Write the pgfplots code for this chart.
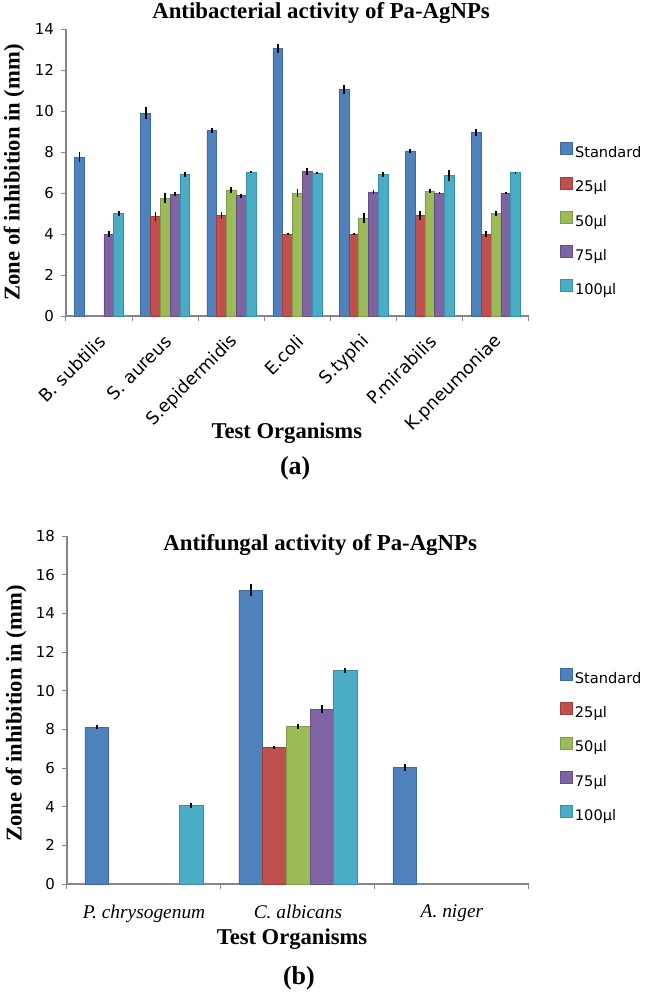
\documentclass[border=0pt]{standalone}
\usepackage{fontspec}
\setmainfont{Liberation Serif}
\newfontfamily\dejavu{DejaVu Sans}
\usepackage{pgfplots}
\pgfplotsset{compat=1.18}

\definecolor{cStd}{HTML}{4F81BD}
\definecolor{cStdD}{HTML}{3C6BA5}
\definecolor{c25}{HTML}{C0504D}
\definecolor{c25D}{HTML}{A13E3B}
\definecolor{c50}{HTML}{9BBB59}
\definecolor{c50D}{HTML}{7E9C44}
\definecolor{c75}{HTML}{8064A2}
\definecolor{c75D}{HTML}{664E86}
\definecolor{c100}{HTML}{4BACC6}
\definecolor{c100D}{HTML}{3591AA}
\definecolor{axgray}{HTML}{868686}

\pgfplotsset{
  zoneaxis/.style={
    scale only axis, clip=false,
    axis lines=left, axis line style={-, draw=axgray, line width=0.6pt},
    ybar=0pt,
    ymin=0,
    tick align=outside,
    major tick length=2.5pt, minor tick length=2.5pt,
    major x tick style={draw=none},
    minor x tick style={draw=axgray, line width=0.5pt},
    ytick style={draw=axgray, line width=0.5pt},
    /pgf/number format/assume math mode=true,
    yticklabel style={font=\dejavu\fontsize{7.5}{8}\selectfont},
    every axis y label/.style={rotate=90, anchor=center,
      font=\bfseries\fontsize{11.3}{12}\selectfont},
    every axis x label/.style={anchor=center,
      font=\bfseries\fontsize{11.3}{12}\selectfont},
    legend image code/.code={\draw[##1, line width=0.3pt] (0pt,-0.5pt) rectangle (6pt,5.5pt);},
    legend cell align=left,
    legend style={draw=none, fill=none, inner sep=0pt, row sep=6.95pt,
      font=\dejavu\fontsize{7.3}{8}\selectfont,
      nodes={inner sep=1pt, text height=5.5pt, text depth=1.5pt},
      anchor=north west},
    every axis plot/.append style={line width=0.3pt,
      /pgfplots/error bars/y dir=both,
      /pgfplots/error bars/y explicit,
      /pgfplots/error bars/error mark=none,
      /pgfplots/error bars/error bar style={black, line width=0.9pt}},
  },
}

\begin{document}
\begin{tikzpicture}
\path[use as bounding box] (0,0) rectangle (322.5pt,496.5pt);

% (a) antibacterial
\begin{axis}[zoneaxis,
  at={(33pt,338.5pt)}, anchor=south west,
  width=231.5pt, height=143.5pt,
  bar width=4.9pt,
  xmin=-0.5, xmax=6.5, ymax=14,
  ytick={0,2,...,14},
  xtick={0,...,6},
  minor xtick={-0.5,0.5,...,6.5},
  xticklabels={B. subtilis, S. aureus, S.epidermidis, E.coli, S.typhi, P.mirabilis, K.pneumoniae},
  xticklabel style={font=\dejavu\fontsize{8.8}{9}\selectfont, rotate=45, anchor=east, xshift=-1.6pt, yshift=-7.3pt},
  ylabel={Zone of inhibition in (mm)},
  ylabel style={at={(axis description cs:-0.112,0.5)}},
  xlabel={Test Organisms},
  xlabel style={at={(axis description cs:0.477,-0.408)}},
  legend style={at={(axis description cs:1.067,0.606)}},
]
\addplot[fill=cStd, draw=cStdD] coordinates {
  (0,7.75) +- (0,0.25) (1,9.9) +- (0,0.3) (2,9.05) +- (0,0.1) (3,13.05) +- (0,0.2)
  (4,11.05) +- (0,0.22) (5,8.05) +- (0,0.08) (6,8.95) +- (0,0.18)};
\addplot[fill=c25, draw=c25D] coordinates {
  (1,4.85) +- (0,0.2) (2,4.9) +- (0,0.17) (3,4.0) +- (0,0.04)
  (4,4.0) +- (0,0.04) (5,4.9) +- (0,0.2) (6,4.0) +- (0,0.15)};
\addplot[fill=c50, draw=c50D] coordinates {
  (1,5.75) +- (0,0.25) (2,6.15) +- (0,0.15) (3,6.0) +- (0,0.2)
  (4,4.77) +- (0,0.25) (5,6.1) +- (0,0.08) (6,5.0) +- (0,0.1)};
\addplot[fill=c75, draw=c75D] coordinates {
  (0,4.0) +- (0,0.15) (1,5.95) +- (0,0.08) (2,5.87) +- (0,0.1) (3,7.05) +- (0,0.15)
  (4,6.05) +- (0,0.1) (5,6.0) +- (0,0.05) (6,6.0) +- (0,0.05)};
\addplot[fill=c100, draw=c100D] coordinates {
  (0,5.0) +- (0,0.1) (1,6.9) +- (0,0.12) (2,7.02) +- (0,0.04) (3,6.98) +- (0,0.05)
  (4,6.92) +- (0,0.12) (5,6.85) +- (0,0.25) (6,7.0) +- (0,0.03)};
\legend{Standard, 25µl, 50µl, 75µl, 100µl}
\node[font=\bfseries\fontsize{11.4}{12}\selectfont] at (rel axis cs:0.551,1.056) {Antibacterial activity of Pa-AgNPs};
\node[font=\bfseries\fontsize{13}{14}\selectfont] at (rel axis cs:0.495,-0.530) {(a)};
\end{axis}

% (b) antifungal
\begin{axis}[zoneaxis,
  at={(33.5pt,54.5pt)}, anchor=south west,
  width=231pt, height=174pt,
  bar width=11.83pt,
  xmin=-0.5, xmax=2.5, ymax=18,
  ytick={0,2,...,18},
  xtick={0,1,2},
  minor xtick={-0.5,0.5,1.5,2.5},
  xticklabels={P. chrysogenum, C. albicans, A. niger},
  xticklabel style={font=\itshape\fontsize{9.7}{10}\selectfont, yshift=-4.5pt},
  ylabel={Zone of inhibition in (mm)},
  ylabel style={at={(axis description cs:-0.110,0.49)}},
  xlabel={Test Organisms},
  xlabel style={at={(axis description cs:0.487,-0.158)}},
  legend style={at={(axis description cs:1.067,0.621)}},
]
\addplot[fill=cStd, draw=cStdD] coordinates {
  (0,8.1) +- (0,0.1) (1,15.2) +- (0,0.3) (2,6.02) +- (0,0.18)};
\addplot[fill=c25, draw=c25D] coordinates {
  (1,7.05) +- (0,0.07)};
\addplot[fill=c50, draw=c50D] coordinates {
  (1,8.15) +- (0,0.12)};
\addplot[fill=c75, draw=c75D] coordinates {
  (1,9.05) +- (0,0.2)};
\addplot[fill=c100, draw=c100D] coordinates {
  (0,4.05) +- (0,0.12) (1,11.05) +- (0,0.12)};
\legend{Standard, 25µl, 50µl, 75µl, 100µl}
\node[font=\bfseries\fontsize{11.4}{12}\selectfont] at (rel axis cs:0.548,0.974) {Antifungal activity of Pa-AgNPs};
\node[font=\bfseries\fontsize{13}{14}\selectfont] at (rel axis cs:0.502,-0.270) {(b)};
\end{axis}
\end{tikzpicture}
\end{document}
